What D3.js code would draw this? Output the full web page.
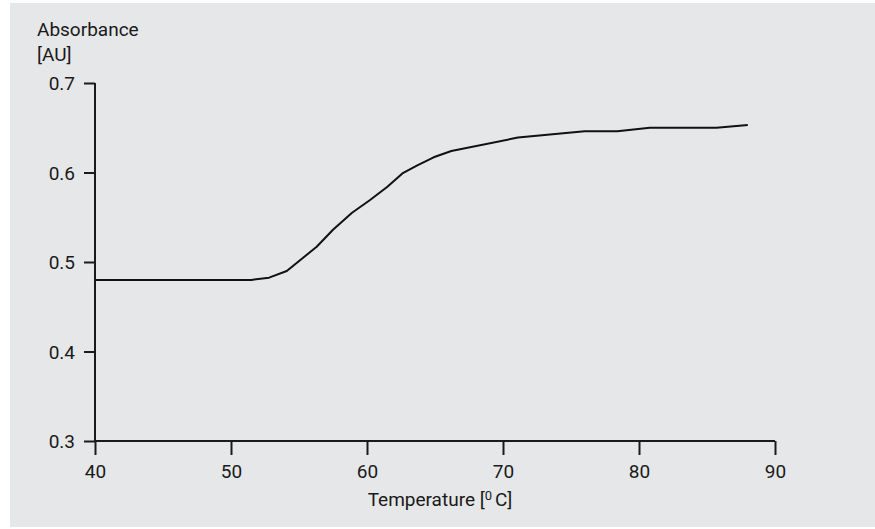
<!DOCTYPE html>
<html><head><meta charset="utf-8">
<script src="https://cdn.jsdelivr.net/npm/d3@7"></script>
<style>
html,body{margin:0;padding:0;background:#fff;}
svg text{font-family:"Roboto",sans-serif;fill:#1a1a1a;}
</style></head>
<body><svg id="c" width="875" height="529"></svg>
<script>
const temperature = [40, 51.5, 52.8, 54.1, 56.3, 57.5, 58.9, 60.2, 61.5, 62.6, 63.7, 64.9, 66.2, 71.1, 76.0, 78.4, 80.8, 85.7, 88.0];
const absorbance  = [0.48, 0.48, 0.4825, 0.49, 0.517, 0.536, 0.555, 0.569, 0.584, 0.599, 0.608, 0.617, 0.624, 0.639, 0.646, 0.646, 0.650, 0.650, 0.653];
const xTicks = [40, 50, 60, 70, 80, 90];
const yTicks = [0.3, 0.4, 0.5, 0.6, 0.7];

const svg = d3.select("#c");
svg.append("rect").attr("x",10).attr("y",3).attr("width",865).attr("height",524).attr("fill","#e6e7e8");

const x = d3.scaleLinear().domain([40,90]).range([95,775]);
const y = d3.scaleLinear().domain([0.3,0.7]).range([441,83]);

const gx = svg.append("g").attr("transform","translate(0,441)")
  .call(d3.axisBottom(x).tickValues(xTicks).tickSize(14).tickPadding(10).tickSizeOuter(0).tickFormat(d3.format("d")));
const gy = svg.append("g").attr("transform","translate(95,0)")
  .call(d3.axisLeft(y).tickValues(yTicks).tickSize(11).tickPadding(9).tickSizeOuter(0).tickFormat(d3.format(".1f")));
[gx,gy].forEach(g=>{
  g.selectAll("path,line").attr("stroke","#1a1a1a").attr("stroke-width",2);
  g.selectAll("text").attr("font-size",19).attr("fill","#1a1a1a").style("font-family",'"Roboto",sans-serif');
});
gy.selectAll("text").attr("dy","0.36em");
gx.select(".domain").attr("d","M95,0H775");
gy.select(".domain").attr("d","M0,83V441");

const data = temperature.map((t,i)=>[t,absorbance[i]]);
svg.append("path").datum(data)
  .attr("d", d3.line().x(d=>x(d[0])).y(d=>y(d[1])))
  .attr("fill","none").attr("stroke","#111").attr("stroke-width",2).attr("stroke-linejoin","round");

svg.append("text").attr("x",37).attr("y",36).attr("font-size",19).text("Absorbance");
svg.append("text").attr("x",37).attr("y",61).attr("font-size",19).text("[AU]");
const tl = svg.append("text").attr("x",440).attr("y",506).attr("font-size",19).attr("text-anchor","middle");
tl.append("tspan").text("Temperature [");
tl.append("tspan").attr("font-size",13).attr("dy",-6).text("0");
tl.append("tspan").attr("dy",6).attr("dx",3).text("C]");
</script></body></html>
